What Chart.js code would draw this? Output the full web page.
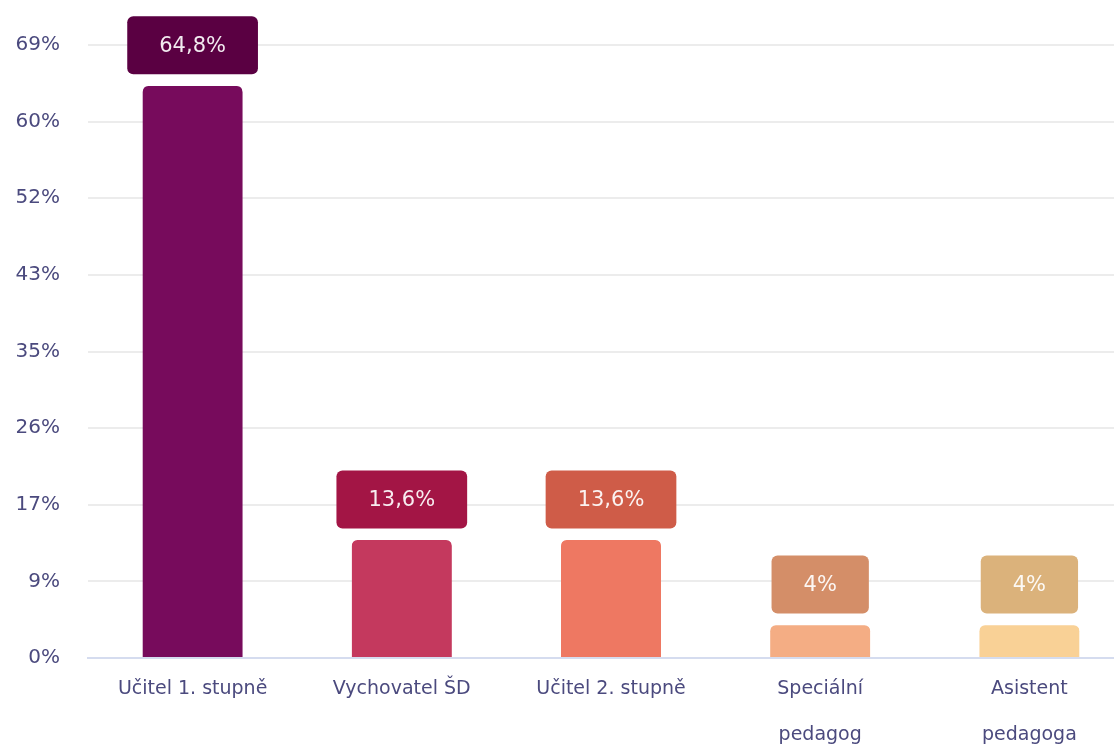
<!DOCTYPE html>
<html>
<head>
<meta charset="utf-8">
<script src="https://cdn.jsdelivr.net/npm/chart.js@4"></script>
<style>
    html, body { margin: 0; padding: 0; background: #fff; overflow: hidden; }
    #wrap { width: 1134px; height: 746px; }
</style>
</head>
<body>
<div id="wrap"><canvas id="positionsChart"></canvas></div>
<script>
// data
const categories = [
    ['Učitel 1. stupně'],
    ['Vychovatel ŠD'],
    ['Učitel 2. stupně'],
    ['Speciální', 'pedagog'],
    ['Asistent', 'pedagoga']
];
const shares = [64.8, 13.6, 13.6, 4, 4];
const yTickLabels = ['0%', '9%', '17%', '26%', '35%', '43%', '52%', '60%', '69%'];
const barColors = ['#770b5c', '#c4395e', '#ee7862', '#f4ad84', '#f9d196'];
const badgeColors = ['#5a0042', '#a31545', '#cf5c48', '#d48e68', '#dbb27b'];

const FONT = "'DejaVu Sans', sans-serif";

function formatShare(v) {
    return String(v).replace('.', ',') + '%';
}

// rounded value badges above each bar
const badgePlugin = {
    id: 'badges',
    afterDatasetsDraw(chart) {
        const ctx = chart.ctx;
        const meta = chart.getDatasetMeta(0);
        ctx.save();
        ctx.font = '21px ' + FONT;
        meta.data.forEach((bar, i) => {
            const text = formatShare(shares[i]);
            const w = ctx.measureText(text).width + 64;
            const h = 58;
            const x = bar.x - w / 2;
            const y = bar.y - 9 - h;
            ctx.fillStyle = badgeColors[i];
            ctx.beginPath();
            ctx.roundRect(x, y, w, h, 6);
            ctx.fill();
            ctx.fillStyle = 'rgba(255,255,255,0.92)';
            ctx.textAlign = 'center';
            ctx.textBaseline = 'middle';
            ctx.fillText(text, bar.x, y + h / 2 + 1);
        });
        ctx.restore();
    }
};

const chartCtx = document.getElementById('positionsChart').getContext('2d');
new Chart(chartCtx, {
    type: 'bar',
    data: {
        labels: categories,
        datasets: [{
            data: shares,
            backgroundColor: barColors,
            borderColor: 'rgba(255,255,255,0)',
            borderWidth: { top: 3, left: 0, right: 0, bottom: 0 },
            borderSkipped: 'bottom',
            borderRadius: { topLeft: 9, topRight: 9 },
            barThickness: 100
        }]
    },
    plugins: [badgePlugin],
    options: {
        responsive: true,
        maintainAspectRatio: false,
        animation: false,
        layout: { padding: { top: 45, left: 0, right: 0, bottom: 0 } },
        plugins: {
            legend: { display: false },
            tooltip: { enabled: false }
        },
        scales: {
            y: {
                min: 0,
                max: 69.12,
                afterFit: (scale) => { scale.width = 88; },
                ticks: {
                    stepSize: 8.64,
                    padding: 28,
                    color: '#4b4a7e',
                    font: { family: FONT, size: 20 },
                    callback: (v, i) => yTickLabels[i]
                },
                grid: { color: '#ececec', lineWidth: 2, drawTicks: false },
                border: { display: false }
            },
            x: {
                afterFit: (scale) => { scale.height = 88; },
                ticks: {
                    padding: 8,
                    color: '#4b4a7e',
                    font: { family: FONT, size: 19, lineHeight: 2.42 },
                    maxRotation: 0,
                    autoSkip: false
                },
                grid: { display: false, drawTicks: false },
                border: { color: '#d5dcef', width: 2 }
            }
        }
    }
});
</script>
</body>
</html>
